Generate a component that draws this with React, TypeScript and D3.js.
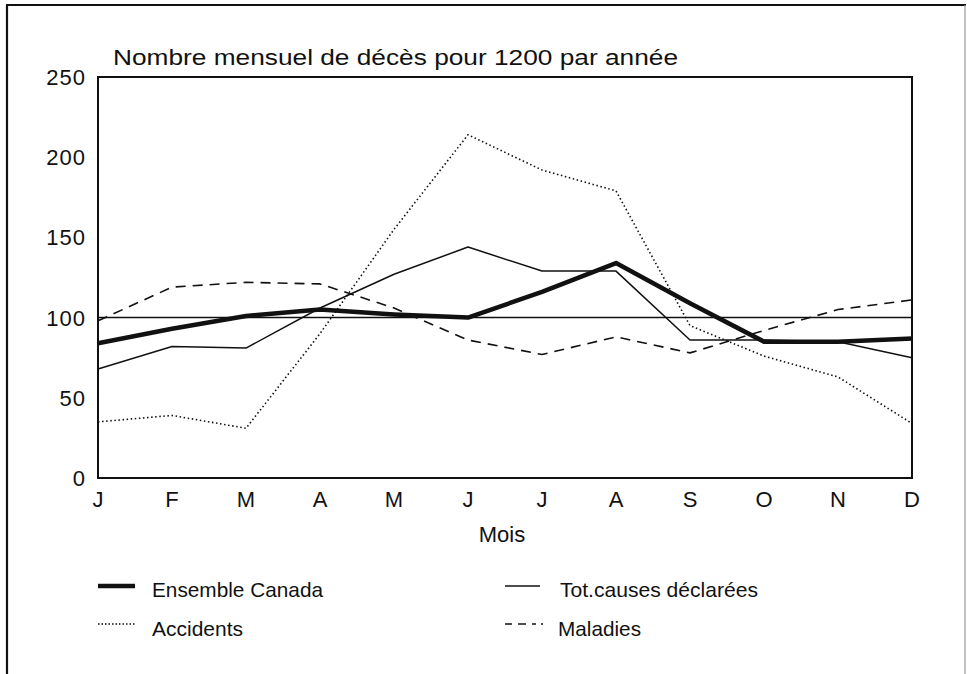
import React from "react";
import * as d3 from "d3";

const months = ["J", "F", "M", "A", "M", "J", "J", "A", "S", "O", "N", "D"];
const yTicks = [0, 50, 100, 150, 200, 250];
const ensembleCanada = [84, 93, 101, 105, 102, 100, 116, 134, 109, 85, 85, 87];
const totCauses = [68, 82, 81, 106, 127, 144, 129, 129, 86, 86, 85, 75];
const accidents = [35, 39, 31, 90, 155, 214, 192, 179, 95, 76, 63, 34];
const maladies = [98, 119, 122, 121, 106, 86, 77, 88, 78, 92, 105, 111];
const referenceValue = 100;

const title = "Nombre mensuel de décès pour 1200 par année";
const xTitle = "Mois";
const legendLabels = ["Ensemble Canada", "Tot.causes déclarées", "Accidents", "Maladies"];

const FONT = "'Liberation Sans', Arial, sans-serif";

export default function App() {
  const W = 967;
  const H = 674;
  const left = 98, right = 912, top = 77, bottom = 478;

  const x = d3.scalePoint<number>().domain(d3.range(12)).range([left, right]);
  const y = d3.scaleLinear().domain([0, 250]).range([bottom, top]);
  const line = d3
    .line<number>()
    .x((_, i) => x(i) as number)
    .y((d) => y(d));

  const series = [
    { data: totCauses, width: 1.5, dash: undefined as string | undefined },
    { data: accidents, width: 1.6, dash: "1.5,2.6" },
    { data: maladies, width: 1.6, dash: "10,7" },
    { data: ensembleCanada, width: 4.5, dash: undefined as string | undefined },
  ];

  const legend = [
    { label: legendLabels[0], x1: 98, x2: 135, tx: 152, ly: 586, ty: 597, w: 4.5, dash: undefined as string | undefined, tl: 171 },
    { label: legendLabels[1], x1: 505, x2: 540, tx: 560, ly: 586, ty: 597, w: 1.5, dash: undefined, tl: 198 },
    { label: legendLabels[2], x1: 98, x2: 135, tx: 152, ly: 624, ty: 636, w: 1.3, dash: "1.5,2", tl: 91 },
    { label: legendLabels[3], x1: 505, x2: 544, tx: 558, ly: 624, ty: 636, w: 1.5, dash: "7,6,8,6,4,5,2", tl: 83 },
  ];

  return (
    <svg
      width={W}
      height={H}
      style={{ position: "absolute", left: 0, top: 0, background: "#fff" }}
      fontFamily={FONT}
    >
      <rect x={0} y={0} width={W} height={H} fill="#fff" />
      {/* outer frame */}
      <line x1={6} y1={5} x2={966} y2={5} stroke="#111" strokeWidth={2} />
      <line x1={7} y1={5} x2={7} y2={H} stroke="#111" strokeWidth={2.2} />
      <line x1={965} y1={5} x2={965} y2={H} stroke="#999" strokeWidth={1.2} />

      {/* title */}
      <text x={113} y={65} fontSize={22} textLength={565} lengthAdjust="spacingAndGlyphs" fill="#111">
        {title}
      </text>

      {/* plot box */}
      <rect x={left} y={top} width={right - left} height={bottom - top} fill="none" stroke="#111" strokeWidth={2} />

      {/* y ticks */}
      {yTicks.map((t) => (
        <text key={t} x={86} y={y(t)} dy="0.36em" fontSize={22} textAnchor="end" fill="#111" letterSpacing={1}>
          {t}
        </text>
      ))}

      {/* x ticks */}
      {months.map((m, i) => (
        <text key={i} x={x(i) as number} y={507} fontSize={22} textAnchor="middle" fill="#111">
          {m}
        </text>
      ))}
      <text x={502} y={542} fontSize={22} textAnchor="middle" fill="#111">
        {xTitle}
      </text>

      {/* reference line */}
      <line x1={left} x2={right} y1={y(referenceValue)} y2={y(referenceValue)} stroke="#111" strokeWidth={1.5} />

      {series.map((s, i) => (
        <path
          key={i}
          d={line(s.data) || ""}
          fill="none"
          stroke="#111"
          strokeWidth={s.width}
          strokeDasharray={s.dash}
          strokeLinejoin="round"
        />
      ))}

      {legend.map((l, i) => (
        <g key={i}>
          <line x1={l.x1} x2={l.x2} y1={l.ly} y2={l.ly} stroke="#111" strokeWidth={l.w} strokeDasharray={l.dash} />
          <text x={l.tx} y={l.ty} fontSize={21} textLength={l.tl} lengthAdjust="spacingAndGlyphs" fill="#111">
            {l.label}
          </text>
        </g>
      ))}
    </svg>
  );
}
